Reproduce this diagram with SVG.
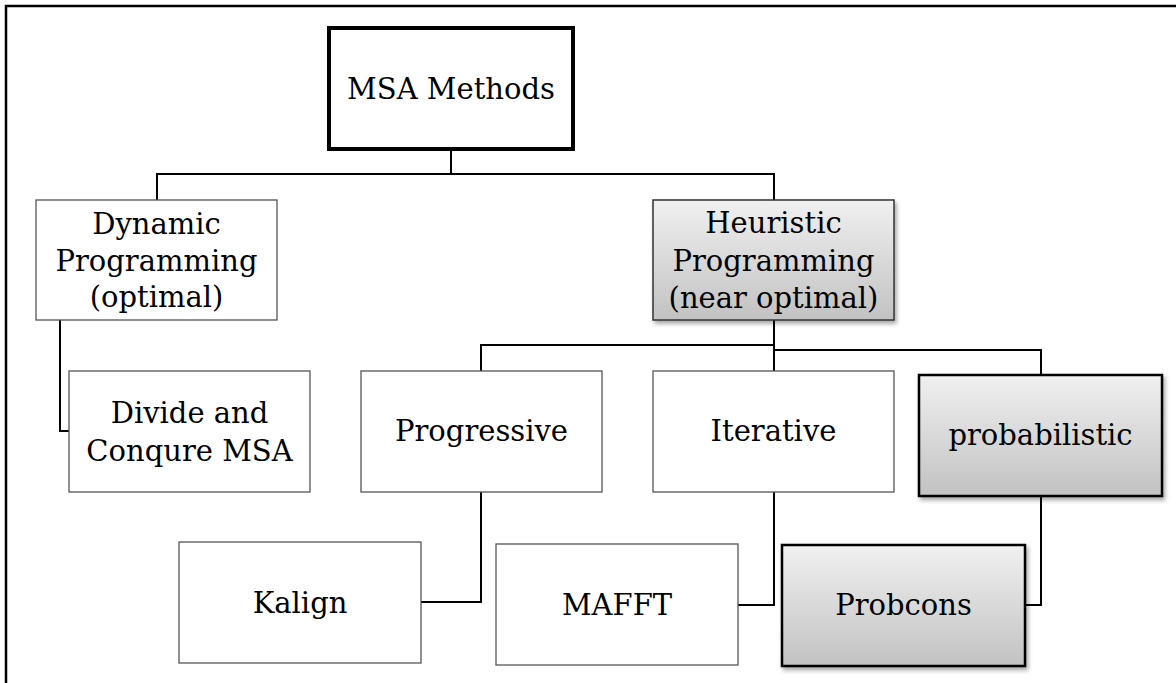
<svg xmlns="http://www.w3.org/2000/svg" width="1176" height="683" viewBox="0 0 1176 683">
<defs>
<linearGradient id="g" x1="0" y1="0" x2="0" y2="1">
<stop offset="0" stop-color="#f0f0f0"/>
<stop offset="1" stop-color="#c2c2c2"/>
</linearGradient>
<filter id="sh" x="-10%" y="-10%" width="125%" height="130%">
<feDropShadow dx="2" dy="3" stdDeviation="2" flood-color="#000" flood-opacity="0.35"/>
</filter>
</defs>
<style>
text{font-family:"DejaVu Serif","Liberation Serif",serif;font-size:29px;fill:#000;text-anchor:middle}
.plain{fill:#fff;stroke:#555;stroke-width:1.3}
.root{fill:#fff;stroke:#000;stroke-width:4}
.heur{fill:url(#g);stroke:#333;stroke-width:1.5;filter:url(#sh)}
.dark{fill:url(#g);stroke:#000;stroke-width:2.5;filter:url(#sh)}
.conn{fill:none;stroke:#000;stroke-width:2}
.frame{fill:none;stroke:#000;stroke-width:2.5}
</style>
<rect width="1176" height="683" fill="#fff"/>
<path class="frame" d="M6,683 V6 H1176"/>
<g id="connectors">
<path class="conn" d="M451,149 V174"/>
<path class="conn" d="M157,200 V174 H774 V200"/>
<path class="conn" d="M60,320 V431 H69"/>
<path class="conn" d="M774,320 V371"/>
<path class="conn" d="M481,371 V345 H774"/>
<path class="conn" d="M774,350 H1041 V375"/>
<path class="conn" d="M481,492 V602 H421"/>
<path class="conn" d="M774,492 V605 H738"/>
<path class="conn" d="M1041,496 V605 H1025"/>
</g>
<g id="msa-methods">
<rect class="root" x="329" y="28" width="244" height="121"/>
<text x="451" y="99">MSA Methods</text>
</g>
<g id="dynamic-programming">
<rect class="plain" x="36" y="200" width="241" height="120"/>
<text x="156.5" y="234">Dynamic</text>
<text x="156.5" y="271">Programming</text>
<text x="156.5" y="307">(optimal)</text>
</g>
<g id="heuristic-programming">
<rect class="heur" x="653" y="200" width="241" height="120"/>
<text x="773.5" y="233">Heuristic</text>
<text x="773.5" y="271">Programming</text>
<text x="773.5" y="308">(near optimal)</text>
</g>
<g id="divide-and-conquer">
<rect class="plain" x="69" y="371" width="241" height="121"/>
<text x="189.5" y="423">Divide and</text>
<text x="189.5" y="461">Conqure MSA</text>
</g>
<g id="progressive">
<rect class="plain" x="361" y="371" width="241" height="121"/>
<text x="481.5" y="441">Progressive</text>
</g>
<g id="iterative">
<rect class="plain" x="653" y="371" width="241" height="121"/>
<text x="773.5" y="441">Iterative</text>
</g>
<g id="probabilistic">
<rect class="dark" x="919" y="375" width="243" height="121"/>
<text x="1040.5" y="445">probabilistic</text>
</g>
<g id="kalign">
<rect class="plain" x="179" y="542" width="242" height="121"/>
<text x="300" y="613">Kalign</text>
</g>
<g id="mafft">
<rect class="plain" x="496" y="544" width="242" height="121"/>
<text x="617" y="615">MAFFT</text>
</g>
<g id="probcons">
<rect class="dark" x="782" y="545" width="243" height="121"/>
<text x="903.5" y="615">Probcons</text>
</g>
</svg>
